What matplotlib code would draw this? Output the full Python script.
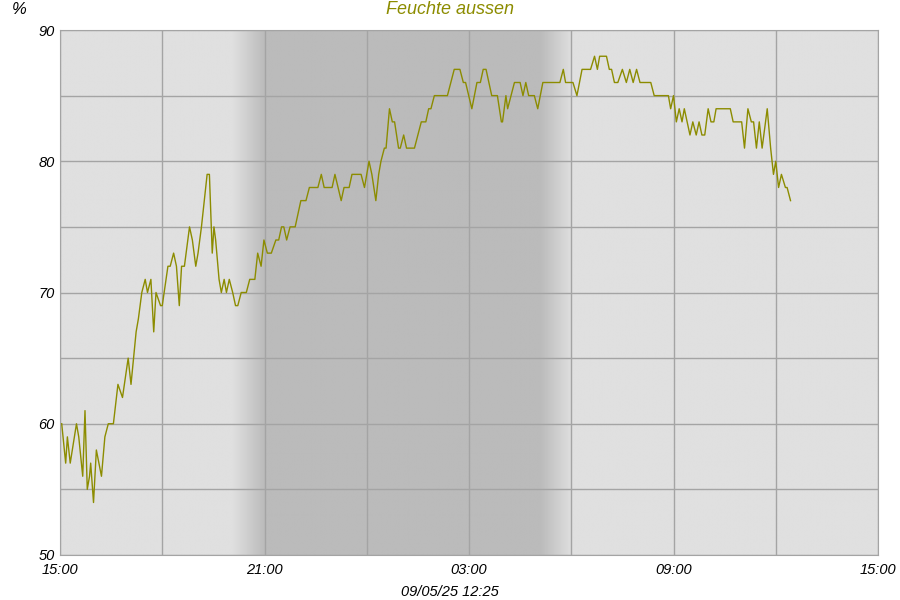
import numpy as np
import pandas as pd
import matplotlib
matplotlib.use('Agg')
import matplotlib.pyplot as plt
import matplotlib.dates as mdates

plt.rcParams['font.family'] = ['Liberation Sans', 'DejaVu Sans']

# humidity readings, minutes after 08/05/25 15:00
minutes = [3, 10, 13, 18, 29, 33, 40, 44, 48, 52, 54, 59, 64, 73, 79, 85, 94, 102, 110, 120,
           125, 134, 138, 144, 150, 154, 160, 165, 169, 177, 180, 190, 194, 200, 205, 210, 214, 219, 228, 233,
           239, 243, 249, 259, 263, 268, 271, 274, 280, 284, 289, 293, 298, 304, 309, 313, 319, 328, 334, 343,
           348, 354, 359, 365, 372, 380, 385, 390, 394, 399, 405, 414, 424, 433, 439, 454, 460, 465, 479, 484,
           495, 500, 509, 514, 530, 536, 544, 549, 556, 561, 565, 571, 574, 580, 585, 589, 596, 599, 605, 610,
           624, 636, 644, 649, 653, 659, 682, 694, 704, 710, 714, 725, 734, 740, 745, 750, 760, 770, 777, 779,
           785, 788, 794, 800, 810, 815, 820, 825, 835, 841, 850, 880, 886, 890, 903, 910, 919, 934, 941, 946,
           950, 962, 967, 971, 976, 982, 990, 997, 1003, 1009, 1015, 1021, 1040, 1046, 1071, 1075, 1080, 1085, 1090, 1095,
           1099, 1109, 1114, 1120, 1125, 1130, 1135, 1141, 1146, 1151, 1155, 1180, 1185, 1200, 1205, 1211, 1217, 1221, 1226, 1231,
           1236, 1245, 1251, 1256, 1260, 1265, 1270, 1277, 1280, 1286]
humidity = [60, 57, 59, 57, 60, 59, 56, 61, 55, 56, 57, 54, 58, 56, 59, 60, 60, 63, 62, 65,
            63, 67, 68, 70, 71, 70, 71, 67, 70, 69, 69, 72, 72, 73, 72, 69, 72, 72, 75, 74,
            72, 73, 75, 79, 79, 73, 75, 74, 71, 70, 71, 70, 71, 70, 69, 69, 70, 70, 71, 71,
            73, 72, 74, 73, 73, 74, 74, 75, 75, 74, 75, 75, 77, 77, 78, 78, 79, 78, 78, 79,
            77, 78, 78, 79, 79, 78, 80, 79, 77, 79, 80, 81, 81, 84, 83, 83, 81, 81, 82, 81,
            81, 83, 83, 84, 84, 85, 85, 87, 87, 86, 86, 84, 86, 86, 87, 87, 85, 85, 83, 83,
            85, 84, 85, 86, 86, 85, 86, 85, 85, 84, 86, 86, 87, 86, 86, 85, 87, 87, 88, 87,
            88, 88, 87, 87, 86, 86, 87, 86, 87, 86, 87, 86, 86, 85, 85, 84, 85, 83, 84, 83,
            84, 82, 83, 82, 83, 82, 82, 84, 83, 83, 84, 84, 83, 83, 81, 84, 83, 83, 81, 83,
            81, 84, 81, 79, 80, 78, 79, 78, 78, 77]

start = pd.Timestamp('2025-05-08 15:00')
end = start + pd.Timedelta(hours=24)
times = start + pd.to_timedelta(minutes, unit='m')

# night: fade in 20:00-21:00, dark until 05:05, fade out until 06:00
night_h = [0, 5.05, 6.0, 14.1, 15.05, 24]
night_lvl = [0.878, 0.878, 0.733, 0.733, 0.878, 0.878]

fig = plt.figure(figsize=(9, 6), dpi=100)
ax = fig.add_axes([60 / 900, 45 / 600, 818 / 900, 525 / 600])

h = np.linspace(0, 24, 2000)
shade = np.interp(h, night_h, night_lvl)
ax.imshow(np.tile(shade, (2, 1)), cmap='gray', vmin=0, vmax=1, aspect='auto',
          extent=[mdates.date2num(start), mdates.date2num(end), 50, 90],
          interpolation='bilinear', zorder=0)

ax.plot(times, humidity, color='#8c8c00', lw=1.0, zorder=3)

ax.set_xlim(start, end)
ax.set_ylim(50, 90)
ax.xaxis.set_major_locator(mdates.HourLocator(byhour=[3, 9, 15, 21]))
ax.xaxis.set_minor_locator(mdates.HourLocator(byhour=[0, 6, 12, 18]))
ax.xaxis.set_major_formatter(mdates.DateFormatter('%H:%M'))
ax.set_yticks([50, 60, 70, 80, 90])
ax.set_yticks([55, 65, 75, 85], minor=True)
ax.grid(True, which='both', color='#a4a4a4', lw=1.0, zorder=1)
for line in ax.get_xgridlines() + ax.get_ygridlines():
    line.set_zorder(1)
ax.tick_params(which='both', length=0, labelsize=10.5, colors='black')
ax.tick_params(axis='x', pad=6)
ax.tick_params(axis='y', pad=4)
for lbl in ax.get_xticklabels() + ax.get_yticklabels():
    lbl.set_fontstyle('italic')
for s in ax.spines.values():
    s.set_color('#a4a4a4')

fig.text(0.5, 1 - 10 / 600, 'Feuchte aussen', ha='center', va='center',
         color='#8c8c00', fontsize=13, style='italic')
fig.text(19 / 900, 1 - 10 / 600, '%', ha='center', va='center', fontsize=12, style='italic')
fig.text(0.5, 1 - 592 / 600, '09/05/25 12:25', ha='center', va='center', fontsize=10.5, style='italic')

fig.savefig('out.png', dpi=100, facecolor='white')
